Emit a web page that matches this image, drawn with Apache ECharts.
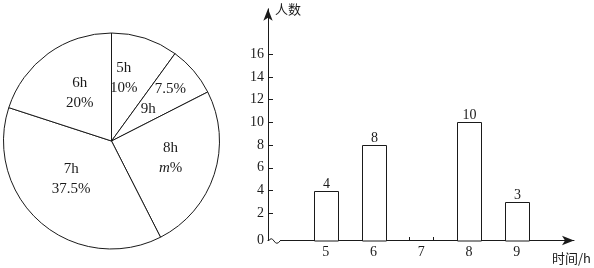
<!DOCTYPE html>
<html><head><meta charset="utf-8">
<style>html,body{margin:0;padding:0;background:#fff}#c{width:594px;height:268px}</style>
<script src="https://cdn.jsdelivr.net/npm/echarts@6/dist/echarts.min.js"></script>
</head><body><div id="c"></div>
<script>
// ---- Pie chart data (clockwise from 12 o'clock) ----
const pieNames = ['5h', '9h', '8h', '7h', '6h'];
const pieValues = [10, 7.5, 25, 37.5, 20];
const pieLabels = ['10%', '7.5%', 'm%', '37.5%', '20%'];

// ---- Bar chart data ----
const hours = [5, 6, 7, 8, 9];
const counts = [4, 8, null, 10, 3];   // 7h bar left blank (to be completed)
const yTicks = [2, 4, 6, 8, 10, 12, 14, 16];
const yZeroLabel = '0';
const xTicks = [5, 6, 7, 8, 9];
const yAxisName = '人数';
const xAxisName = '时间/h';

// ---- styling ----
const serif = "'Liberation Serif', 'Times New Roman', 'Noto Sans CJK SC', serif";
const cjk = "'Noto Sans CJK SC', 'Liberation Serif', sans-serif";
const ink = '#1a1a1a';
const yMin = -0.4, yMax = 20, xMin = 3.79, xMax = 10.2;
const barW = 24;
// small hand nudges of the pie labels, as in the original drawing
const pieLabelNudge = { '5h': [-6, -7], '9h': [3, -4], '8h': [3, -1], '7h': [-2, -7], '6h': [3, 0] };

const chart = echarts.init(document.getElementById('c'));

const pieData = pieNames.map((n, i) => ({ name: n, value: pieValues[i] }));
const pieLabelData = pieNames.map((n, i) => ({ name: n, value: pieValues[i], label: { offset: pieLabelNudge[n] } }));
const txt = { fontFamily: serif, fontSize: 15, lineHeight: 20, color: ink };

function pieFormatter(p) {
  const i = p.dataIndex;
  const name = pieNames[i], pct = pieLabels[i];
  if (pieValues[i] < 8) {
    return '{r|' + pct + '}\n{l|' + name + '}';
  }
  let pctRich;
  if (pct.charAt(0) === 'm') pctRich = '{it|m}{n|' + pct.slice(1) + '}';
  else pctRich = '{n|' + pct + '}';
  return '{n|' + name + '}\n' + pctRich;
}

const barData = hours.map((h, i) => [h, counts[i]]).filter(d => d[1] != null);
const missing = hours.filter((h, i) => counts[i] == null).map(h => [h, 0]);

chart.setOption({
  animation: false,
  grid: { left: 268, top: 8.8, right: 17, bottom: 27.5 },
  xAxis: {
    type: 'value', min: xMin, max: xMax,
    splitLine: { show: false },
    axisLine: { show: true, onZero: false, lineStyle: { color: ink, width: 1 }, symbol: ['none', 'arrow'], symbolSize: [7, 12] },
    axisTick: { show: false },
    axisLabel: { customValues: xTicks, margin: 5, fontFamily: serif, fontSize: 14, color: ink },
    name: xAxisName, nameLocation: 'end', nameGap: 17,
    nameTextStyle: { fontFamily: cjk, fontSize: 13, color: ink, align: 'right', verticalAlign: 'top', padding: [11, 0, 0, 0] }
  },
  yAxis: {
    type: 'value', min: yMin, max: yMax,
    splitLine: { show: false },
    axisLine: { show: true, onZero: false, lineStyle: { color: ink, width: 1 }, symbol: ['none', 'arrow'], symbolSize: [7, 12] },
    axisTick: { show: true, inside: true, length: 5, customValues: yTicks, lineStyle: { color: ink } },
    axisLabel: {
      customValues: [yMin].concat(yTicks), margin: 4, fontFamily: serif, fontSize: 14, color: ink,
      formatter: v => (v < 0 ? yZeroLabel : String(v))
    },
    name: yAxisName, nameLocation: 'end', nameGap: 0,
    nameTextStyle: { fontFamily: cjk, fontSize: 13, color: ink, align: 'left', verticalAlign: 'middle', padding: [6, 0, 0, 7] }
  },
  series: [
    {
      type: 'pie', center: [111.5, 141], radius: [0, 108], startAngle: 90, clockwise: true,
      label: { show: false }, labelLine: { show: false }, silent: true,
      itemStyle: { color: '#fff', borderColor: ink, borderWidth: 1 },
      data: pieData
    },
    {
      type: 'pie', center: [111.5, 141], radius: [4, 108], startAngle: 90, clockwise: true,
      silent: true, z: 3, avoidLabelOverlap: false,
      labelLayout: { hideOverlap: false },
      itemStyle: { color: 'rgba(0,0,0,0)', borderWidth: 0 },
      labelLine: { show: false },
      label: {
        show: true, position: 'inside', formatter: pieFormatter,
        fontFamily: serif, fontSize: 15, lineHeight: 20, color: ink,
        rich: {
          n: txt,
          it: Object.assign({}, txt, { fontStyle: 'italic' }),
          r: Object.assign({}, txt, { padding: [0, 0, 0, 22] }),
          l: Object.assign({}, txt, { padding: [0, 22, 0, 0] })
        }
      },
      data: pieLabelData
    },
    {
      type: 'custom', data: barData,
      renderItem: (params, api) => {
        const x = api.value(0), v = api.value(1);
        const top = api.coord([x, v]);
        const bot = api.coord([x, yMin]);
        const left = Math.round(top[0] - barW / 2) + 0.5;
        const t = Math.round(top[1]) + 0.5;
        return {
          type: 'rect',
          shape: { x: left, y: t, width: barW, height: Math.round(bot[1]) - t },
          style: { fill: '#fff', stroke: ink, lineWidth: 1 },
          textContent: { style: { text: String(v), fontFamily: serif, fontSize: 14, fill: ink } },
          textConfig: { position: 'top', distance: 0 }
        };
      }
    },
    {
      type: 'custom', data: missing,
      renderItem: (params, api) => {
        const base = api.coord([api.value(0), yMin]);
        const xl = Math.round(base[0] - barW / 2) + 0.5;
        const y0 = Math.round(base[1]);
        return {
          type: 'group', children: [
            { type: 'line', shape: { x1: xl, y1: y0, x2: xl, y2: y0 - 4 }, style: { stroke: ink, lineWidth: 1 } },
            { type: 'line', shape: { x1: xl + barW, y1: y0, x2: xl + barW, y2: y0 - 4 }, style: { stroke: ink, lineWidth: 1 } }
          ]
        };
      }
    }
  ]
});

// axis-break squiggle at the origin of the x axis (decoration)
const o = chart.convertToPixel({ gridIndex: 0 }, [xMin, yMin]);
const ox = Math.round(o[0]), oy = Math.round(o[1]);
chart.setOption({
  graphic: [
    { type: 'rect', z: 100, shape: { x: ox + 1, y: oy - 2, width: 11, height: 4 }, style: { fill: '#fff' } },
    { type: 'bezierCurve', z: 101, shape: { x1: ox + 0.5, y1: oy, x2: ox + 6, y2: oy, cpx1: ox + 3.2, cpy1: oy - 4.5 },
      style: { fill: 'none', stroke: ink, lineWidth: 1 } },
    { type: 'bezierCurve', z: 101, shape: { x1: ox + 6, y1: oy, x2: ox + 12, y2: oy, cpx1: ox + 8.8, cpy1: oy + 4.5 },
      style: { fill: 'none', stroke: ink, lineWidth: 1 } }
  ]
});
</script></body></html>
